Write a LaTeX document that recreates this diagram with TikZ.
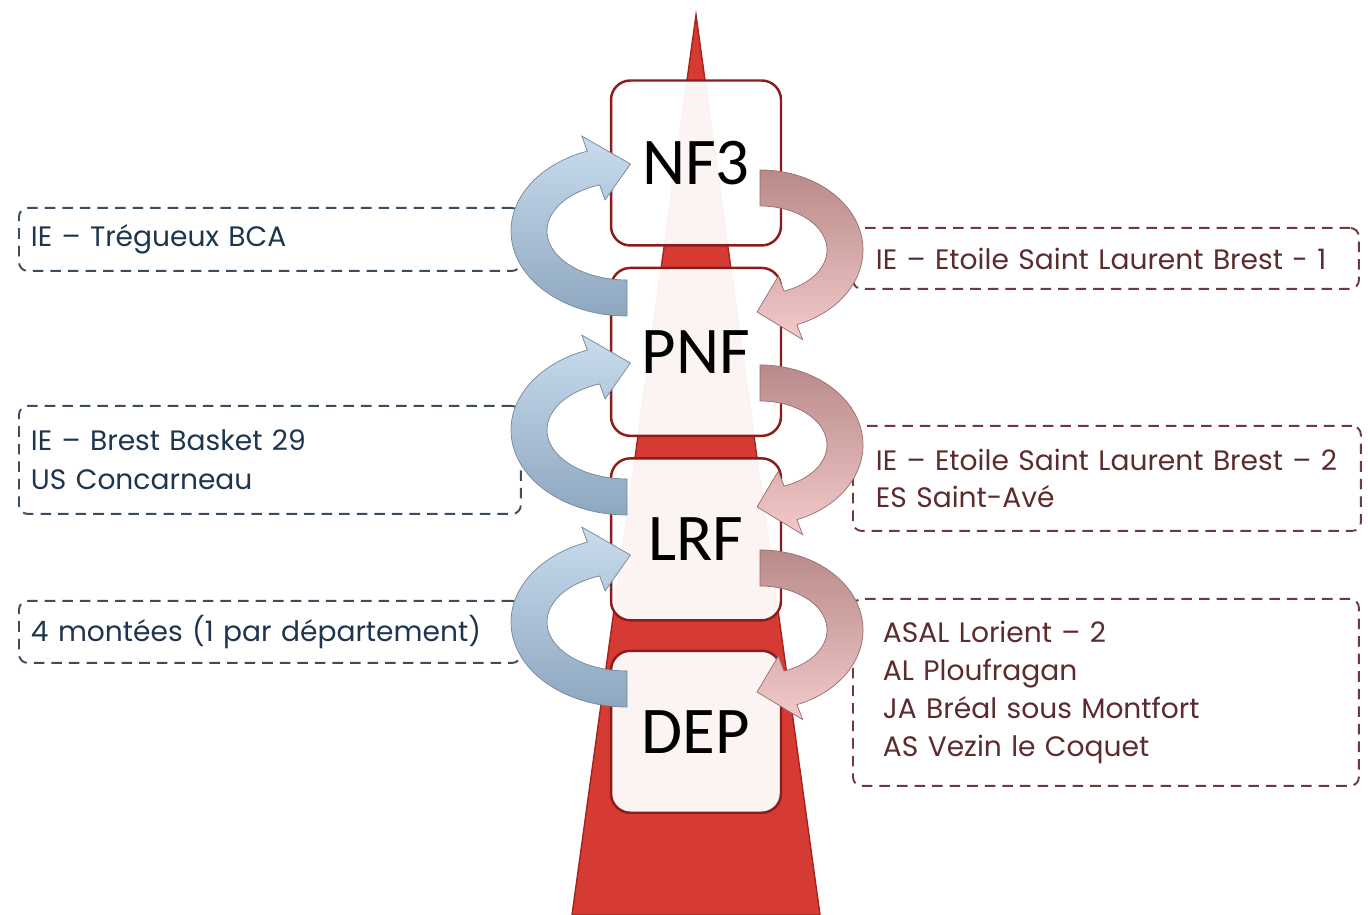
\documentclass[tikz,border=0pt]{standalone}
\usepackage{fontspec}
\setmainfont{Poppins}
\newfontfamily\levelfont{Carlito}
\usetikzlibrary{positioning,calc}

\definecolor{towerred}{HTML}{D63B33}
\definecolor{towerline}{HTML}{A3231D}
\definecolor{boxred}{HTML}{8B1C1C}
\definecolor{uptext}{HTML}{1E3550}
\definecolor{upline}{HTML}{3B4E60}
\definecolor{downtext}{HTML}{5C2C2C}
\definecolor{downline}{HTML}{6E3A3A}
\definecolor{uplight}{HTML}{C9DCEE}
\definecolor{updark}{HTML}{8EA7BF}
\definecolor{downlight}{HTML}{F3C9C9}
\definecolor{downdark}{HTML}{B98A8A}

% curved block arrows, #1 = centre of the curve
\newcommand{\climbarrow}[1]{%
  \path[upshade] ($(#1)+(270:116 and 85)$) arc[start angle=270,end angle=110,x radius=116,y radius=85]
    -- ($(#1)+(110:132 and 101)$) -- ($(#1)+(88:98 and 67)$) -- ($(#1)+(110:64 and 33)$)
    -- ($(#1)+(110:80 and 49)$) arc[start angle=110,end angle=270,x radius=80,y radius=49] -- cycle;}
\newcommand{\droparrow}[1]{%
  \path[downshade] ($(#1)+(90:103 and 80)$) arc[start angle=90,end angle=-69,x radius=103,y radius=80]
    -- ($(#1)+(-69:119 and 96)$) -- ($(#1)+(-92:85 and 62)$) -- ($(#1)+(-69:51 and 28)$)
    -- ($(#1)+(-69:67 and 44)$) arc[start angle=-69,end angle=90,x radius=67,y radius=44] -- cycle;}

\begin{document}
\begin{tikzpicture}[x=0.02cm,y=0.02cm,
    level/.style={draw=boxred,line width=1.4pt,rounded corners=11pt,fill=white,fill opacity=0.94,text opacity=1,
      minimum width=3.4cm,minimum height=3.3cm,inner sep=0pt,font=\levelfont\fontsize{38}{40}\selectfont},
    note/.style={dashed,dash pattern=on 6pt off 4pt,line width=1.1pt,rounded corners=5pt,anchor=north west,
      align=left,inner ysep=0pt,font=\fontsize{16}{21.5}\selectfont},
    upnote/.style={note,draw=upline,text=uptext,inner xsep=0.24cm,text width=9.56cm},
    downnote/.style={note,draw=downline,text=downtext},
    upshade/.style={top color=uplight,bottom color=updark,draw=updark!80!black,line width=0.4pt},
    downshade/.style={top color=downdark,bottom color=downlight,draw=downdark!80!black,line width=0.4pt}]

    \useasboundingbox (0,0) rectangle (1368,915);

    % tower
    \fill[towerred,draw=towerline,line width=0.8pt] (696,900) -- (820,0) -- (572,0) -- cycle;

    \node[level] (nf3) at (696,752) {NF3};
    \node[level,below=0.4cm of nf3,minimum height=3.36cm] (pnf) {PNF};
    \node[level,below=0.4cm of pnf,minimum height=3.24cm] (lrf) {LRF};
    \node[level,below=0.56cm of lrf,minimum height=3.24cm] (dep) {DEP};

    % up
    \node[upnote,minimum height=1.26cm] (ie1) at (18,708) {IE – Trégueux BCA};
    \node[upnote,minimum height=2.16cm] (ie2) at (18,510) {IE – Brest Basket 29\\[1pt]US Concarneau};
    \node[upnote,minimum height=1.24cm] (dep4) at (18,315) {4 montées (1 par département)};

    % down
    \node[downnote,minimum height=1.22cm,inner xsep=0.46cm,text width=9.2cm] (esl1) at (852,688)
        {IE – Etoile Saint Laurent Brest - 1};
    \node[downnote,minimum height=2.1cm,inner xsep=0.46cm,text width=9.24cm] (esl2) at (852,490)
        {IE – Etoile Saint Laurent Brest – 2\\ES Saint-Avé};
    \node[downnote,minimum height=3.74cm,inner xsep=0.6cm,text width=8.92cm] (asal) at (852,317)
        {ASAL Lorient – 2\\AL Ploufragan\\JA Bréal sous Montfort\\AS Vezin le Coquet};

    \coordinate (up1) at (627,684);
    \coordinate (up2) at (627,485);
    \coordinate (up3) at (627,293);
    \coordinate (down1) at (760,665);
    \coordinate (down2) at (760,470);
    \coordinate (down3) at (760,285);

    \climbarrow{up1}
    \climbarrow{up2}
    \climbarrow{up3}
    \droparrow{down1}
    \droparrow{down2}
    \droparrow{down3}

\end{tikzpicture}
\end{document}
